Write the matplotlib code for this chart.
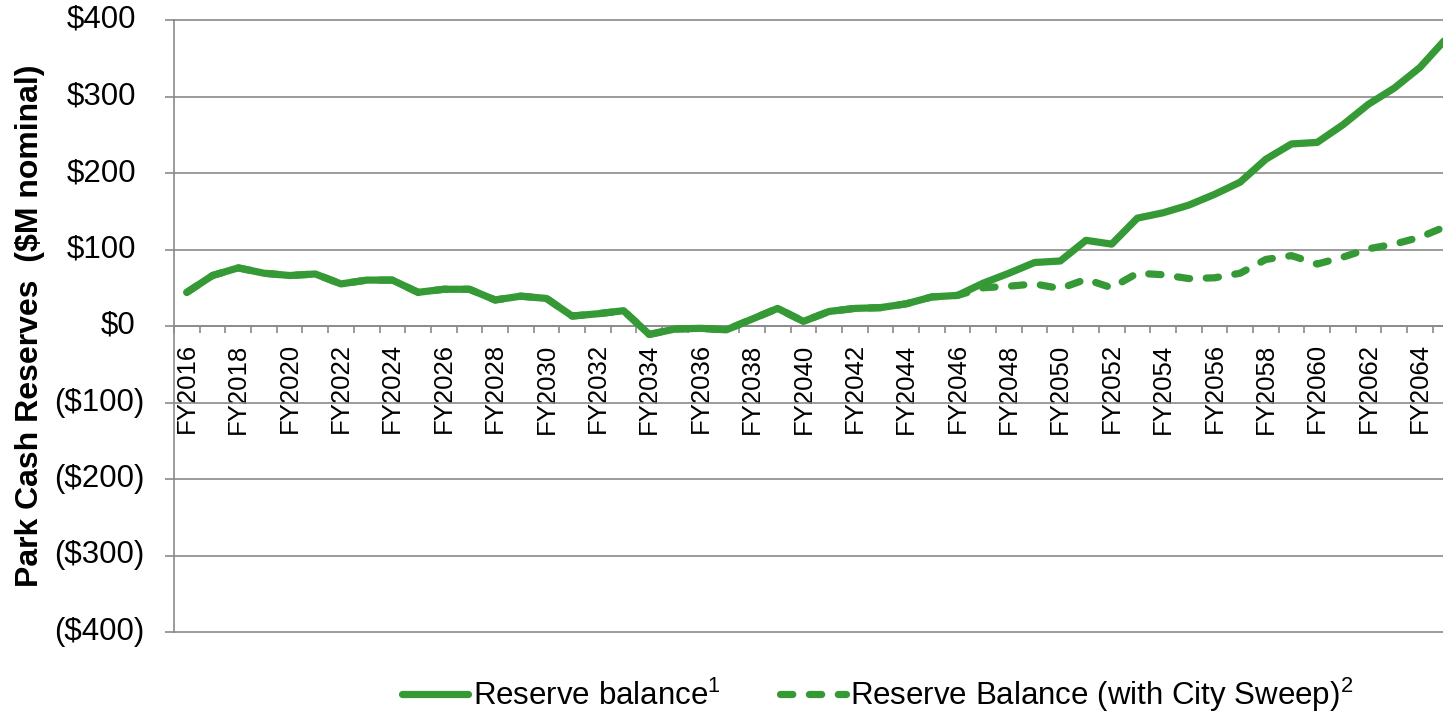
import matplotlib
matplotlib.use("Agg")
import matplotlib.pyplot as plt
import matplotlib.transforms as mtransforms
from matplotlib.lines import Line2D

plt.rcParams['font.family'] = ['Liberation Sans', 'DejaVu Sans']
plt.rcParams['mathtext.fontset'] = 'custom'
plt.rcParams['mathtext.rm'] = 'Liberation Sans'
plt.rcParams['mathtext.it'] = 'Liberation Sans:italic'
plt.rcParams['mathtext.bf'] = 'Liberation Sans:bold'
plt.rcParams['mathtext.default'] = 'regular'

# ---------------- data ----------------
years = list(range(2016, 2066))
reserve_balance = [44, 66, 76, 69, 66, 68, 55, 60, 60, 44,
                   48, 48, 34, 39, 36, 13, 16, 20, -11, -4,
                   -3, -5, 9, 23, 6, 19, 23, 24, 29, 38,
                   40, 56, 69, 83, 85, 112, 107, 141, 148, 158,
                   172, 188, 218, 238, 240, 263, 290, 311, 338, 375]
reserve_with_sweep = [44, 66, 76, 69, 66, 68, 55, 60, 60, 44,
                      48, 48, 34, 39, 36, 13, 16, 20, -11, -4,
                      -3, -5, 9, 23, 6, 19, 23, 24, 29, 38,
                      40, 50, 52, 55, 49, 61, 50, 69, 67, 62,
                      63, 69, 87, 92, 81, 90, 101, 107, 116, 130]
label_years = list(range(2016, 2065, 2))
xtick_labels = [f"FY{y}" for y in label_years]
ytick_values = [400, 300, 200, 100, 0, -100, -200, -300, -400]
series_names = ["Reserve balance$^1$", "Reserve Balance (with City Sweep)$^2$"]
y_title = "Park Cash Reserves  ($M nominal)"

GREEN = '#359a35'
GRID = '#8a8a8a'
W, H = 1443, 714

fig = plt.figure(figsize=(W / 100, H / 100), dpi=100)
ax = fig.add_axes([174 / W, 82 / H, 1284.5 / W, 612 / H])

ax.plot(years, reserve_with_sweep, color=GREEN, lw=5.2,
        linestyle=(0, (1.7, 2.3)), dash_capstyle='round',
        solid_joinstyle='round', zorder=3)
ax.plot(years, reserve_balance, color=GREEN, lw=5.2,
        solid_capstyle='round', solid_joinstyle='round', zorder=4)

ax.set_xlim(2015.5, 2065.5)
ax.set_ylim(-400, 400)

# grid
ax.set_yticks(ytick_values)
ax.yaxis.grid(True, color=GRID, lw=1.2)
ax.set_axisbelow(True)
for gl in ax.get_ygridlines():
    gl.set_clip_on(False)
ax.tick_params(axis='y', which='major', direction='out', length=6.5,
               width=1.2, color=GRID, labelleft=False)

# spines
for s in ['top', 'right']:
    ax.spines[s].set_visible(False)
ax.spines['left'].set_color(GRID)
ax.spines['left'].set_linewidth(1.2)
ax.spines['bottom'].set_position(('data', 0))
ax.spines['bottom'].set_color(GRID)
ax.spines['bottom'].set_linewidth(1.2)
ax.spines['bottom'].set_zorder(2)

# x ticks
ax.set_xticks(label_years)
ax.set_xticklabels(xtick_labels, rotation=90, fontsize=18.5)
ax.set_xticks([y - 0.5 for y in years] + [years[-1] + 0.5], minor=True)
ax.tick_params(axis='x', which='major', length=0, pad=12.5)
ax.tick_params(axis='x', which='minor', direction='out', length=5,
               width=1.2, color=GRID)

# y tick labels (accounting format, positives padded for ")")
blend = mtransforms.blended_transform_factory(ax.transAxes, ax.transData)
for v in ytick_values:
    if v < 0:
        s = f"(${-v})"
        off = -20.9
    else:
        s = f"${v}"
        off = -27.4
    ax.annotate(s, xy=(0, v), xycoords=blend, xytext=(off, 0),
                textcoords='offset points', ha='right', va='center',
                fontsize=22.5, color='black')

fig.text(30 / W, 1 - 326 / H, y_title, rotation=90, ha='center',
         va='center', fontsize=23, fontweight='bold')

handles = [Line2D([], [], color=GREEN, lw=5.2, solid_capstyle='round'),
           Line2D([], [], color=GREEN, lw=5.2, linestyle=(0, (1.7, 2.3)),
                  dash_capstyle='round')]
fig.legend(handles, series_names, loc='center',
           bbox_to_anchor=(878 / W, 1 - 695 / H), ncol=2, frameon=False,
           fontsize=22.5, handlelength=2.1, handletextpad=0.15,
           columnspacing=1.9, borderpad=0)

fig.savefig('out.png', dpi=100)
